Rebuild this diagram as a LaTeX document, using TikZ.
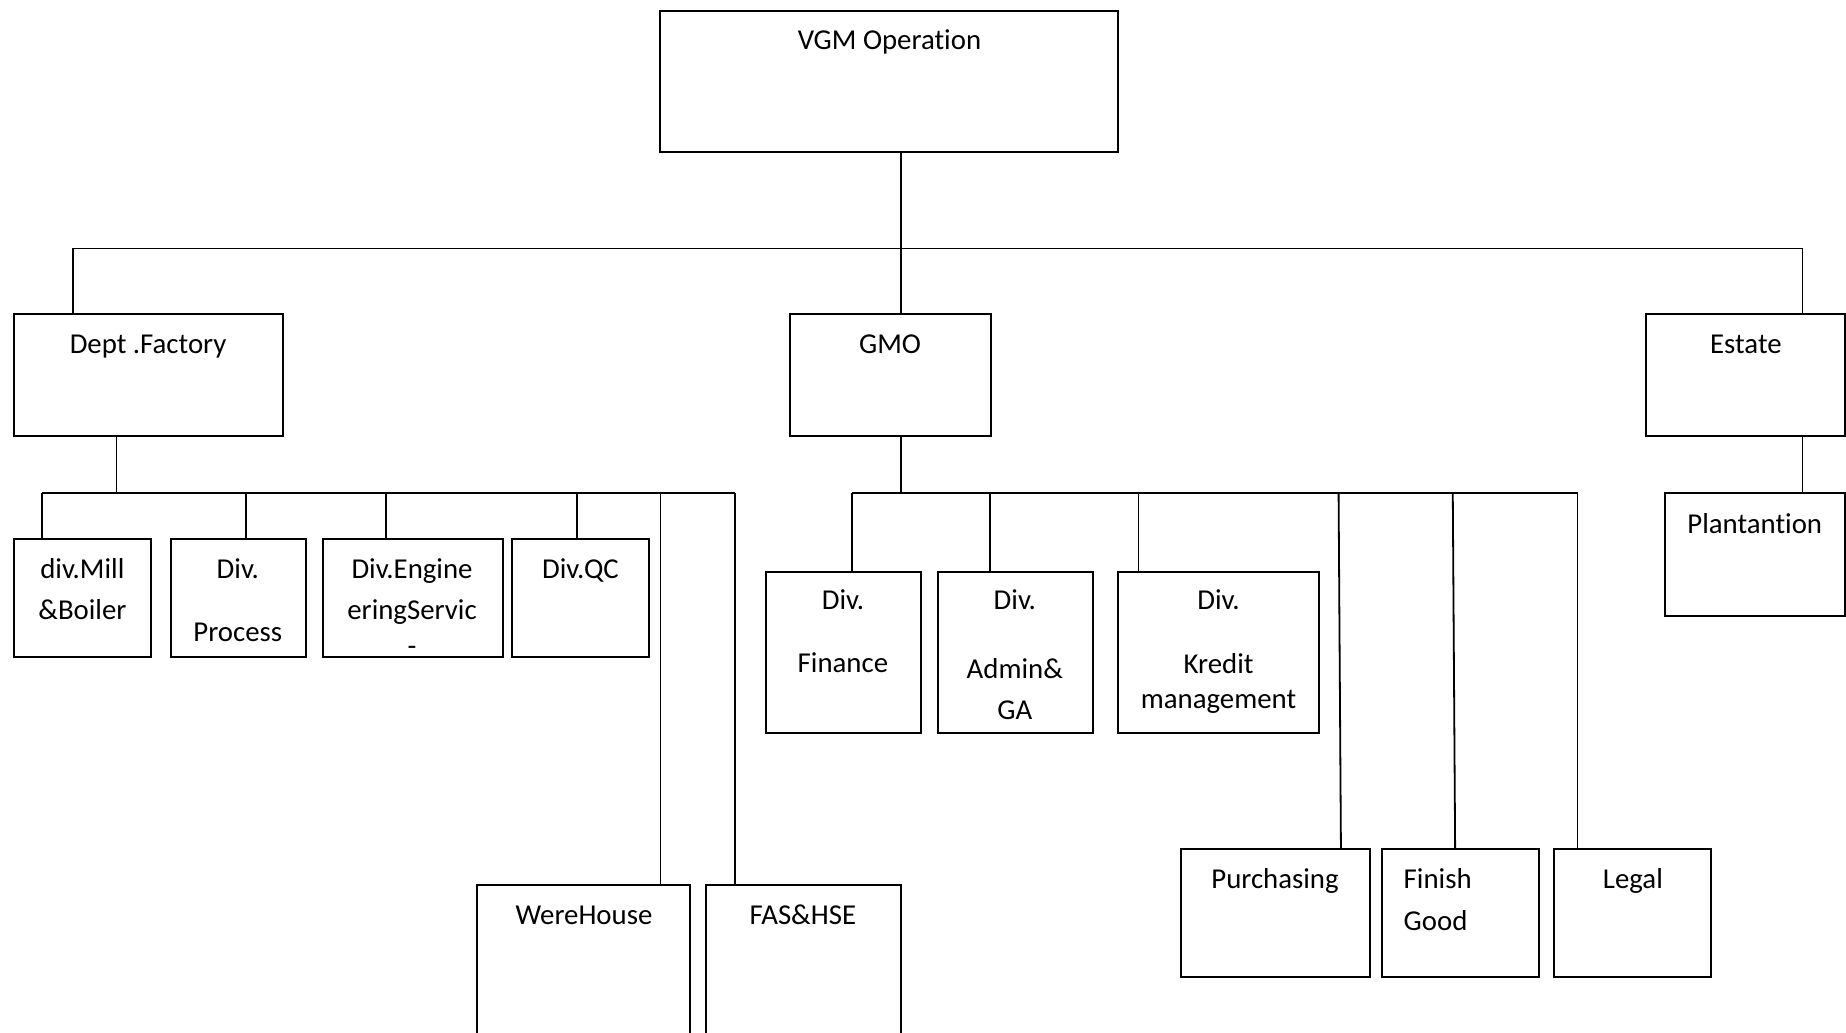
\documentclass[tikz,border=0pt]{standalone}
\usepackage{fontspec}
\setmainfont[Ligatures=NoCommon]{Carlito}
\usetikzlibrary{fit}
\begin{document}
\begin{tikzpicture}[x=0.5886pt,y=-0.5886pt,
  box/.style={draw, line width=1pt, inner sep=0pt, rectangle},
  conn/.style={draw, line width=0.9pt},
  txt/.style={anchor=base, inner sep=0pt, font=\fontsize{14.4}{17}\selectfont}]
\useasboundingbox (0,0) rectangle (1568,877);
\clip (0,0) rectangle (1568,877);
% boxes
\node[box, fit={(561,9) (950,129)}] (vgm) {};
\node[box, fit={(12,267) (240,370)}] (fac) {};
\node[box, fit={(671,267) (842,370)}] (gmo) {};
\node[box, fit={(1398,267) (1566.8,370)}] (est) {};
\node[box, fit={(1414,419) (1566.8,523)}] (pla) {};
\node[box, fit={(12,458) (128,558)}] (mill) {};
\node[box, fit={(145,458) (260,558)}] (proc) {};
\node[box, fit={(274,458) (427,558)}] (eng) {};
\node[box, fit={(435,458) (551,558)}] (qc) {};
\node[box, fit={(405,752) (586,900)}] (wh) {};
\node[box, fit={(600,752) (765,900)}] (fas) {};
\node[box, fit={(651,486) (782,623)}] (fin) {};
\node[box, fit={(797,486) (928,623)}] (adm) {};
\node[box, fit={(950,486) (1120,623)}] (kre) {};
\node[box, fit={(1003,721) (1164,830)}] (pur) {};
\node[box, fit={(1174,721) (1307,830)}] (fg) {};
\node[box, fit={(1320,721) (1453,830)}] (leg) {};
% texts
\node[txt] (tvgm) at (755.5,42) {VGM Operation};
\node[txt] (tfac) at (125.8,300) {Dept .Factory};
\node[txt] (tgmo) at (756,300) {GMO};
\node[txt] (test) at (1483,300) {Estate};
\node[txt] (tpla) at (1490.5,453) {Plantantion};
\node[txt] (tmill1) at (70,491) {div.Mill};
\node[txt] (tmill2) at (70,526) {\&Boiler};
\node[txt] (tproc1) at (202,491) {Div.};
\node[txt] (tproc2) at (202,545) {Process};
\node[txt] (teng1) at (350,491) {Div.Engine};
\node[txt] (teng2) at (350,526) {eringServic};
\node[txt] (teng3) at (350,557) {-};
\node[txt] (tqc) at (493,491) {Div.QC};
\node[txt] (twh) at (496,785) {WereHouse};
\node[txt] (tfas) at (682,785) {FAS\&HSE};
\node[txt] (tfin1) at (716,518) {Div.};
\node[txt] (tfin2) at (716,571) {Finance};
\node[txt] (tadm1) at (862,518) {Div.};
\node[txt] (tadm2) at (862,576) {Admin\&};
\node[txt] (tadm3) at (862,611) {GA};
\node[txt] (tkre1) at (1035,518) {Div.};
\node[txt] (tkre2) at (1035,572) {Kredit};
\node[txt] (tkre3) at (1035,602) {management};
\node[txt] (tpur) at (1083,755) {Purchasing};
\node[txt, anchor=base west] (tfg1) at (1192,755) {Finish};
\node[txt, anchor=base west] (tfg2) at (1192,790) {Good};
\node[txt] (tleg) at (1387,755) {Legal};
% top level connectors
\coordinate (t0) at (765,211);
\coordinate (tL) at (62,211);
\coordinate (tR) at (1531,211);
\draw[conn] (t0 |- vgm.south) -- (t0);
\draw[conn] (tL) -- (tR);
\draw[conn] (tL) -- (tL |- fac.north);
\draw[conn] (t0) -- (t0 |- gmo.north);
\draw[conn] (tR) -- (tR |- est.north);
\draw[conn] (tR |- est.south) -- (tR |- pla.north);
% factory connectors
\coordinate (fJ) at (99,419);
\coordinate (fL) at (36,419);
\coordinate (fR) at (624,419);
\draw[conn] (fJ |- fac.south) -- (fJ);
\draw[conn] (fL) -- (fR);
\draw[conn] (fL) -- (fL |- mill.north);
\coordinate (f2) at (209,419);
\coordinate (f3) at (328,419);
\coordinate (f4) at (490,419);
\coordinate (f5) at (561,419);
\draw[conn] (f2) -- (f2 |- proc.north);
\draw[conn] (f3) -- (f3 |- eng.north);
\draw[conn] (f4) -- (f4 |- qc.north);
\draw[conn] (f5) -- (f5 |- wh.north);
\draw[conn] (fR) -- (fR |- fas.north);
% GMO connectors
\coordinate (gJ) at (765,419);
\coordinate (gL) at (724,419);
\coordinate (gR) at (1340,419);
\draw[conn] (gJ |- gmo.south) -- (gJ);
\draw[conn] (gL) -- (gR);
\draw[conn] (gL) -- (gL |- fin.north);
\coordinate (g2) at (841,419);
\coordinate (g3) at (967,419);
\coordinate (g4) at (1137,419);
\coordinate (g4b) at (1139,721);
\coordinate (g5) at (1234,419);
\coordinate (g5b) at (1236,721);
\draw[conn] (g2) -- (g2 |- adm.north);
\draw[conn] (g3) -- (g3 |- kre.north);
\draw[conn] (g4) -- (g4b |- pur.north);
\draw[conn] (g5) -- (g5b |- fg.north);
\draw[conn] (gR) -- (gR |- leg.north);
\end{tikzpicture}
\end{document}
